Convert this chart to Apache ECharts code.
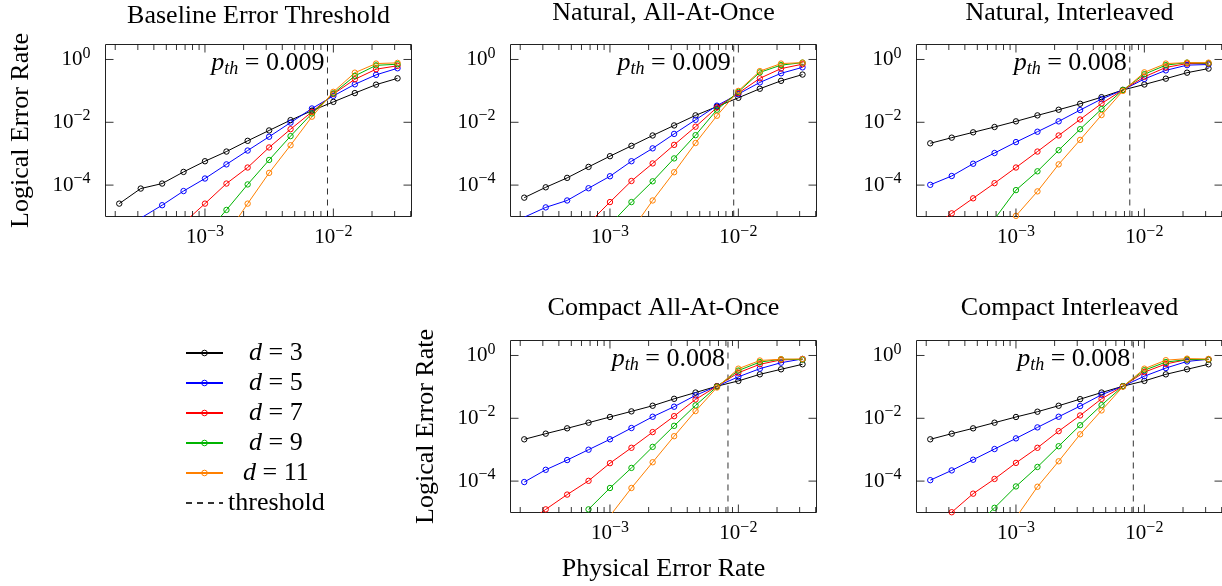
<!DOCTYPE html>
<html><head><meta charset="utf-8">
<script src="https://cdn.jsdelivr.net/npm/echarts@6/dist/echarts.min.js"></script>
<style>html,body{margin:0;padding:0;background:#fff}#c{width:1222px;height:586px}</style>
</head><body><div id="c"></div>
<script>
// ---------------- data ----------------
const physicalErrorRates = [2.15e-4, 3.16e-4, 4.64e-4, 6.81e-4, 1.0e-3, 1.47e-3, 2.15e-3, 3.16e-3, 4.64e-3, 6.81e-3, 1.0e-2, 1.47e-2, 2.15e-2, 3.16e-2];
const distances = ['d = 3', 'd = 5', 'd = 7', 'd = 9', 'd = 11'];
const panelTitles = ['Baseline Error Threshold', 'Natural, All-At-Once', 'Natural, Interleaved', 'Compact All-At-Once', 'Compact Interleaved'];
const thresholdLabels = ['0.009', '0.009', '0.008', '0.008', '0.008'];
const thresholdValues = [0.009, 0.0092, 0.0077, 0.0083, 0.0082];

const baselineD3 = [2.57e-5, 7.76e-5, 1.12e-4, 2.63e-4, 5.75e-4, 1.17e-3, 2.57e-3, 5.50e-3, 1.17e-2, 2.34e-2, 4.47e-2, 8.51e-2, 0.158, 0.251];
const baselineD5 = [3.2e-6, 8.9e-6, 2.29e-5, 6.46e-5, 1.62e-4, 4.57e-4, 1.26e-3, 3.47e-3, 9.77e-3, 2.75e-2, 6.92e-2, 0.162, 0.324, 0.525];
const baselineD7 = [null, null, null, 6.2e-6, 2.57e-5, 1.12e-4, 3.63e-4, 1.58e-3, 6.03e-3, 2.14e-2, 7.94e-2, 0.234, 0.490, 0.631];
const baselineD9 = [null, null, null, null, 2.6e-6, 1.62e-5, 1.05e-4, 6.31e-4, 3.63e-3, 1.91e-2, 8.32e-2, 0.300, 0.650, 0.708];
const baselineD11 = [null, null, null, null, null, 2.6e-6, 2.57e-5, 2.45e-4, 1.86e-3, 1.51e-2, 9.33e-2, 0.380, 0.741, 0.780];

const naturalAllD3 = [3.98e-5, 8.51e-5, 1.70e-4, 3.80e-4, 8.32e-4, 1.78e-3, 3.80e-3, 7.94e-3, 1.66e-2, 3.16e-2, 6.03e-2, 0.117, 0.209, 0.331];
const naturalAllD5 = [9.5e-6, 1.95e-5, 3.24e-5, 7.94e-5, 1.91e-4, 5.75e-4, 1.48e-3, 4.27e-3, 1.20e-2, 3.39e-2, 7.94e-2, 0.186, 0.363, 0.562];
const naturalAllD7 = [null, null, null, 6.0e-6, 2.88e-5, 1.35e-4, 4.90e-4, 1.91e-3, 7.24e-3, 2.95e-2, 8.51e-2, 0.251, 0.513, 0.708];
const naturalAllD9 = [null, null, null, null, 5.5e-6, 2.88e-5, 1.32e-4, 7.08e-4, 3.89e-3, 2.51e-2, 9.33e-2, 0.389, 0.661, 0.794];
const naturalAllD11 = [null, null, null, null, null, 3.6e-6, 3.24e-5, 2.57e-4, 2.19e-3, 1.62e-2, 0.100, 0.427, 0.741, 0.794];

const naturalIntD3 = [2.14e-3, 3.24e-3, 4.79e-3, 7.08e-3, 1.07e-2, 1.66e-2, 2.51e-2, 3.89e-2, 6.31e-2, 0.107, 0.160, 0.245, 0.380, 0.513];
const naturalIntD5 = [1.02e-4, 1.95e-4, 4.79e-4, 1.05e-3, 2.34e-3, 5.01e-3, 1.07e-2, 2.45e-2, 5.50e-2, 0.107, 0.240, 0.450, 0.661, 0.692];
const naturalIntD7 = [4.0e-6, 1.26e-5, 3.80e-5, 1.15e-4, 3.63e-4, 1.17e-3, 3.80e-3, 1.23e-2, 3.98e-2, 0.107, 0.280, 0.560, 0.741, 0.741];
const naturalIntD9 = [null, null, null, 8.3e-6, 6.92e-5, 2.75e-4, 1.29e-3, 6.03e-3, 2.63e-2, 0.107, 0.339, 0.661, 0.794, 0.759];
const naturalIntD11 = [null, null, null, null, 1.05e-5, 6.31e-5, 4.57e-4, 2.75e-3, 1.70e-2, 0.100, 0.389, 0.741, 0.794, 0.794];

const compactAllD3 = [2.14e-3, 3.24e-3, 4.79e-3, 7.24e-3, 1.10e-2, 1.66e-2, 2.51e-2, 4.17e-2, 6.61e-2, 0.105, 0.155, 0.251, 0.363, 0.525];
const compactAllD5 = [9.33e-5, 2.29e-4, 4.68e-4, 1.00e-3, 2.14e-3, 4.90e-3, 1.12e-2, 2.34e-2, 5.37e-2, 0.105, 0.209, 0.380, 0.589, 0.776];
const compactAllD7 = [4.0e-6, 1.26e-5, 3.72e-5, 1.02e-4, 3.72e-4, 1.15e-3, 3.63e-3, 1.17e-2, 3.98e-2, 0.105, 0.282, 0.525, 0.724, 0.759];
const compactAllD9 = [null, null, null, 1.26e-5, 6.03e-5, 2.63e-4, 1.23e-3, 5.75e-3, 2.57e-2, 0.102, 0.331, 0.617, 0.759, 0.741];
const compactAllD11 = [null, null, null, null, 7.8e-6, 6.03e-5, 3.98e-4, 2.69e-3, 1.70e-2, 9.55e-2, 0.380, 0.692, 0.759, 0.776];

const compactIntD3 = [2.14e-3, 3.24e-3, 4.79e-3, 7.24e-3, 1.10e-2, 1.62e-2, 2.51e-2, 4.07e-2, 6.61e-2, 0.105, 0.155, 0.251, 0.363, 0.525];
const compactIntD5 = [1.07e-4, 2.19e-4, 4.79e-4, 1.05e-3, 2.29e-3, 5.13e-3, 1.12e-2, 2.45e-2, 5.62e-2, 0.105, 0.219, 0.398, 0.646, 0.759];
const compactIntD7 = [3.2e-6, 1.02e-5, 3.98e-5, 1.17e-4, 3.80e-4, 1.15e-3, 3.89e-3, 1.23e-2, 4.17e-2, 0.105, 0.295, 0.537, 0.741, 0.741];
const compactIntD9 = [null, null, 3.2e-6, 1.41e-5, 6.76e-5, 2.82e-4, 1.29e-3, 6.03e-3, 2.63e-2, 0.105, 0.339, 0.617, 0.741, 0.741];
const compactIntD11 = [null, null, null, null, 6.9e-6, 6.61e-5, 4.27e-4, 3.09e-3, 1.78e-2, 0.102, 0.380, 0.708, 0.794, 0.776];

// tick values
const xMajorTicks = [1e-3, 1e-2];
const xMinorTicks = [2e-4, 3e-4, 4e-4, 5e-4, 6e-4, 7e-4, 8e-4, 9e-4, 2e-3, 3e-3, 4e-3, 5e-3, 6e-3, 7e-3, 8e-3, 9e-3, 2e-2, 3e-2, 4e-2];
const yMajorTicks = [1e-4, 1e-2, 1];

// axis bounds
const X_MIN = 1.68e-4, X_MAX = 4.06e-2, Y_MIN = 1e-5, Y_MAX = 3;
const PTH_LABEL_Y = 1;

// ---------------- styling ----------------
const FONT = 'Liberation Serif';
const colors = ['#000000', '#0000ff', '#ff0000', '#00b400', '#ff8000'];
const panelValues = [
  [baselineD3, baselineD5, baselineD7, baselineD9, baselineD11],
  [naturalAllD3, naturalAllD5, naturalAllD7, naturalAllD9, naturalAllD11],
  [naturalIntD3, naturalIntD5, naturalIntD7, naturalIntD9, naturalIntD11],
  [compactAllD3, compactAllD5, compactAllD7, compactAllD9, compactAllD11],
  [compactIntD3, compactIntD5, compactIntD7, compactIntD9, compactIntD11]
];
const gridRects = [
  {left: 105.5, top: 44.5}, {left: 510.5, top: 44.5}, {left: 916.5, top: 44.5},
  {left: 510.5, top: 340.5}, {left: 916.5, top: 340.5}
];
const GW = 306, GH = 172;
const titleTops = [3, 0, 0, 295, 295];

function near(v, list) {
  return list.some(t => Math.abs(Math.log10(v) - Math.log10(t)) < 1e-3);
}
function powLabel(v) {
  const e = Math.round(Math.log10(v));
  return '{b|10}{s|' + (e < 0 ? '\u2212' : '') + Math.abs(e) + '}';
}
const labelRich = {
  b: {fontFamily: FONT, fontSize: 21, lineHeight: 28, color: '#000'},
  s: {fontFamily: FONT, fontSize: 16, lineHeight: 16, verticalAlign: 'top', color: '#000'}
};

const grid = [], xAxis = [], yAxis = [], series = [], title = [];
gridRects.forEach((g, gi) => {
  grid.push({left: g.left, top: g.top, width: GW, height: GH, show: true, borderColor: '#222', borderWidth: 1,
             backgroundColor: 'transparent', containLabel: false, outerBoundsMode: 'none'});
  title.push({text: panelTitles[gi], left: g.left + GW / 2, top: titleTops[gi], textAlign: 'center', padding: 0,
              textStyle: {fontFamily: FONT, fontSize: 26, fontWeight: 'normal', color: '#000'}});
  xAxis.push({
    type: 'log', gridIndex: gi, min: X_MIN, max: X_MAX,
    axisLine: {show: false}, axisTick: {show: false}, splitLine: {show: false}, minorTick: {show: false},
    axisLabel: {margin: 7, showMinLabel: false, showMaxLabel: false,
      formatter: v => near(v, xMajorTicks) ? powLabel(v) : '', rich: labelRich},
    name: gi === 3 ? 'Physical Error Rate' : '', nameLocation: 'middle', nameGap: 44,
    nameTextStyle: {fontFamily: FONT, fontSize: 26, color: '#000'}
  });
  yAxis.push({
    type: 'log', gridIndex: gi, min: Y_MIN, max: Y_MAX,
    axisLine: {show: false}, axisTick: {show: false}, splitLine: {show: false}, minorTick: {show: false},
    axisLabel: {margin: 15, showMinLabel: false, showMaxLabel: false,
      formatter: v => near(v, yMajorTicks) ? powLabel(v) : '', rich: labelRich},
    name: (gi === 0 || gi === 3) ? 'Logical Error Rate' : '', nameLocation: 'middle', nameGap: 71,
    nameTextStyle: {fontFamily: FONT, fontSize: 26, color: '#000'}
  });
  // error-rate curves
  panelValues[gi].forEach((vals, k) => {
    series.push({
      type: 'line', name: distances[k], xAxisIndex: gi, yAxisIndex: gi,
      data: physicalErrorRates.map((x, i) => [x, vals[i]]).filter(p => p[1] != null),
      symbol: 'circle', symbolSize: 5.4, showSymbol: true, clip: true,
      lineStyle: {color: colors[k], width: 1},
      itemStyle: {color: 'rgba(0,0,0,0)', borderColor: colors[k], borderWidth: 1},
      emphasis: {disabled: true}, silent: true, animation: false, z: 3
    });
  });
  // threshold line + label
  const pth = thresholdValues[gi];
  series.push({
    type: 'line', name: 'threshold', xAxisIndex: gi, yAxisIndex: gi,
    data: [[pth, Y_MIN], [pth, Y_MAX]], symbol: 'none', clip: true,
    lineStyle: {color: '#333', width: 1, type: [6, 5]},
    itemStyle: {color: '#333'},
    emphasis: {disabled: true}, silent: true, animation: false, z: 2,
    markPoint: {
      symbol: 'circle', symbolSize: 0, silent: true, animation: false,
      data: [{coord: [pth, PTH_LABEL_Y]}],
      label: {show: true, position: 'left', distance: 3, offset: [0, 4], color: '#000',
        formatter: () => '{i|p}{sub|th}{n| = ' + thresholdLabels[gi] + '}',
        rich: {
          i: {fontFamily: FONT, fontStyle: 'italic', fontSize: 26, lineHeight: 30, color: '#000'},
          sub: {fontFamily: FONT, fontStyle: 'italic', fontSize: 18, lineHeight: 18, verticalAlign: 'bottom', color: '#000'},
          n: {fontFamily: FONT, fontSize: 26, lineHeight: 30, color: '#000'}
        }}
    }
  });
  // tick marks on all four sides
  const tickData = [];
  xMajorTicks.forEach(v => tickData.push([v, Y_MIN, 0]));
  xMinorTicks.forEach(v => tickData.push([v, Y_MIN, 1]));
  yMajorTicks.forEach(v => tickData.push([X_MIN, v, 2]));
  series.push({
    type: 'custom', xAxisIndex: gi, yAxisIndex: gi, data: tickData, silent: true, animation: false, clip: false, z: 5,
    renderItem: (params, api) => {
      const cs = params.coordSys;
      const kind = api.value(2);
      const pt = api.coord([api.value(0), api.value(1)]);
      const style = {stroke: '#000', lineWidth: 0.8};
      const len = kind === 1 ? 5.5 : 8;
      if (kind <= 1) {
        const x = pt[0];
        return {type: 'group', children: [
          {type: 'line', shape: {x1: x, y1: cs.y + cs.height, x2: x, y2: cs.y + cs.height - len}, style},
          {type: 'line', shape: {x1: x, y1: cs.y, x2: x, y2: cs.y + len}, style}
        ]};
      }
      const y = pt[1];
      return {type: 'group', children: [
        {type: 'line', shape: {x1: cs.x, y1: y, x2: cs.x + len, y2: y}, style},
        {type: 'line', shape: {x1: cs.x + cs.width, y1: y, x2: cs.x + cs.width - len, y2: y}, style}
      ]};
    }
  });
});

const legendRich = {
  sp1: {width: 21, fontSize: 20, lineHeight: 20},
  sp2: {width: 15, fontSize: 20, lineHeight: 20},
  i: {fontFamily: FONT, fontStyle: 'italic', fontSize: 26, lineHeight: 20, color: '#000'},
  n: {fontFamily: FONT, fontSize: 26, lineHeight: 20, color: '#000'}
};
const legendData = distances.map((d, k) => ({
  name: d, itemStyle: {color: 'rgba(0,0,0,0)', borderColor: colors[k], borderWidth: 1}
})).concat([{name: 'threshold', itemStyle: {color: 'rgba(0,0,0,0)', borderColor: 'rgba(0,0,0,0)', borderWidth: 0, opacity: 0}}]);

const chart = echarts.init(document.getElementById('c'), null, {renderer: 'canvas'});
chart.setOption({
  backgroundColor: '#fff',
  animation: false,
  title,
  grid, xAxis, yAxis, series,
  legend: {
    orient: 'vertical', left: 185, top: 340, padding: 0,
    itemWidth: 37, itemHeight: 7, itemGap: 4, selectedMode: false,
    data: legendData,
    textStyle: {fontFamily: FONT, fontSize: 26, lineHeight: 20, color: '#000', rich: legendRich},
    formatter: name => {
      if (name === 'threshold') return '{n|threshold}';
      const num = name.split('= ')[1];
      return '{' + (num.length === 1 ? 'sp1' : 'sp2') + '| }{i|d}{n| = ' + num + '}';
    }
  }
});
</script>
</body></html>
